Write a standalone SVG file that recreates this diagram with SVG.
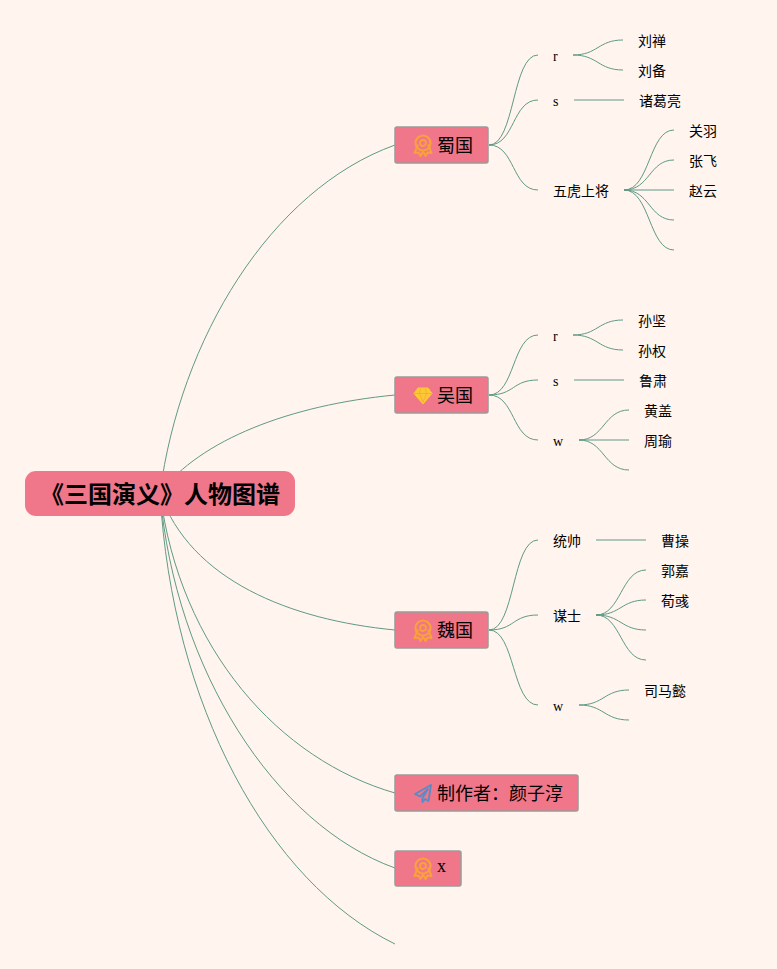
<svg xmlns="http://www.w3.org/2000/svg" xmlns:xlink="http://www.w3.org/1999/xlink" width="777" height="969" viewBox="0 0 777 969">
<style>
text{font-family:"Noto Sans CJK SC","Liberation Serif",sans-serif;fill:#000}
.l{font-size:14px}
.m{font-size:18px}
.lat{font-family:"Liberation Serif",serif}
.box{fill:#f07689;stroke:#9a9a9a;stroke-width:1.500}
#connectors path{fill:none;stroke:#5f9a85;stroke-width:1}
</style>
<defs>
<g id="medal" fill="none" stroke="#f9a13a">
<circle cx="0" cy="-3" r="7.500" stroke-width="2.200"/>
<circle cx="0" cy="-3" r="3" stroke-width="1.800"/>
<path d="M-5-1.500-8.500 7 -4.500 6.500-2.500 10 0 5.500 2.500 10 4.500 6.500 8.500 7 5-1.500" stroke-width="2" stroke-linejoin="round"/>
</g>
</defs>
<rect width="777" height="969" fill="#fff4ee"/>
<g id="connectors">
<path d="M160,493C180,340 270,190 395,145"/>
<path d="M160,493C200,440 290,405 395,395"/>
<path d="M160,493C190,580 290,620 395,630"/>
<path d="M160,493C180,650 280,760 395,793"/>
<path d="M160,493C175,670 275,825 395,868"/>
<path d="M160,493C172,705 268,882 395,944"/>
<path d="M489,145C515,145 512,55 538,55"/>
<path d="M489,145C515,145 512,100 538,100"/>
<path d="M489,145C515,145 512,190 538,190"/>
<path d="M573,55C598,55 598,40 623,40"/>
<path d="M573,55C598,55 598,70 623,70"/>
<path d="M574,100H624"/>
<path d="M624,190C650,190 649,130 674,130"/>
<path d="M624,190C650,190 649,160 674,160"/>
<path d="M624,190H674"/>
<path d="M624,190C650,190 649,220 674,220"/>
<path d="M624,190C650,190 649,250 674,250"/>
<path d="M489,395C515,395 512,335 538,335"/>
<path d="M489,395C515,395 512,380 538,380"/>
<path d="M489,395C515,395 512,440 538,440"/>
<path d="M573,335C598,335 598,320 623,320"/>
<path d="M573,335C598,335 598,350 623,350"/>
<path d="M574,380H624"/>
<path d="M579,440C604,440 604,410 629,410"/>
<path d="M579,440H629"/>
<path d="M579,440C604,440 604,470 629,470"/>
<path d="M489,630C515,630 512,540 538,540"/>
<path d="M489,630C515,630 512,615 538,615"/>
<path d="M489,630C515,630 512,705 538,705"/>
<path d="M596,540H646"/>
<path d="M596,615C621,615 621,570 646,570"/>
<path d="M596,615C621,615 621,600 646,600"/>
<path d="M596,615C621,615 621,630 646,630"/>
<path d="M596,615C621,615 621,660 646,660"/>
<path d="M579,705C604,705 604,690 629,690"/>
<path d="M579,705C604,705 604,720 629,720"/>
</g>
<g id="root">
<rect x="25" y="471" width="270" height="45" rx="11" fill="#f07689"/>
<text x="160" y="503" font-size="24" font-weight="700" text-anchor="middle">《三国演义》人物图谱</text>
</g>
<g id="shu">
<rect class="box" x="395" y="127" width="93" height="36" rx="2"/>
<use xlink:href="#medal" href="#medal" x="423" y="146"/>
<text class="m" x="437" y="152">蜀国</text>
</g>
<g id="wu">
<rect class="box" x="395" y="377" width="93" height="36" rx="2"/>
<path d="M418,388H428L432,393.500 423,404 414,393.500Z" fill="#fcc935" stroke="#fcc935" stroke-width="1" stroke-linejoin="round"/>
<path d="M414.500,393.500H431.500M420.500,388.500 419.500,393.500 423,402 426.500,393.500 425.500,388.500" fill="none" stroke="#f9a13a" stroke-width=".7"/>
<text class="m" x="437" y="402">吴国</text>
</g>
<g id="wei">
<rect class="box" x="395" y="612" width="93" height="36" rx="2"/>
<use xlink:href="#medal" href="#medal" x="423" y="631"/>
<text class="m" x="437" y="637">魏国</text>
</g>
<g id="maker">
<rect class="box" x="395" y="775" width="183" height="36" rx="2"/>
<path d="M431,785 415,794 420,796.500 428,789 422.500,798 422.500,802 425,799 428.500,801Z" fill="none" stroke="#5a8ac6" stroke-width="1.800" stroke-linejoin="round"/>
<text class="m" x="437" y="800">制作者：颜子淳</text>
</g>
<g id="x">
<rect class="box" x="395" y="851" width="66" height="35" rx="2"/>
<use xlink:href="#medal" href="#medal" x="423" y="869"/>
<text class="m lat" x="437" y="872">x</text>
</g>
<g id="shu-leaves">
<text class="l lat" x="553" y="61">r</text>
<text class="l lat" x="553" y="106">s</text>
<text class="l" x="553" y="196">五虎上将</text>
<text class="l" x="638" y="46">刘禅</text>
<text class="l" x="638" y="76">刘备</text>
<text class="l" x="639" y="106">诸葛亮</text>
<text class="l" x="689" y="136">关羽</text>
<text class="l" x="689" y="166">张飞</text>
<text class="l" x="689" y="196">赵云</text>
</g>
<g id="wu-leaves">
<text class="l lat" x="553" y="341">r</text>
<text class="l lat" x="553" y="386">s</text>
<text class="l lat" x="553" y="446">w</text>
<text class="l" x="638" y="326">孙坚</text>
<text class="l" x="638" y="356">孙权</text>
<text class="l" x="639" y="386">鲁肃</text>
<text class="l" x="644" y="416">黄盖</text>
<text class="l" x="644" y="446">周瑜</text>
</g>
<g id="wei-leaves">
<text class="l" x="553" y="546">统帅</text>
<text class="l" x="553" y="621">谋士</text>
<text class="l lat" x="553" y="711">w</text>
<text class="l" x="661" y="546">曹操</text>
<text class="l" x="661" y="576">郭嘉</text>
<text class="l" x="661" y="606">荀彧</text>
<text class="l" x="644" y="696">司马懿</text>
</g>
</svg>
